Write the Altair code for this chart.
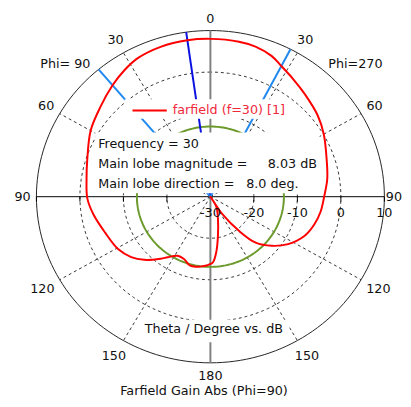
import altair as alt
import numpy as np
import pandas as pd

# ---------------- data ----------------
# theta in degrees, positive = Phi=90 side (left), negative = Phi=270 side (right)
theta_deg = [180, 177, 172, 169, 164, 158, 152, 146, 142.6, 135, 128.6, 120.7, 109.7, 99.2,
             90.8, 81.4, 72.4, 60, 49.6, 40, 33, 26.6, 17.6, 8, 0,
             -10, -16, -22.5, -27.5, -34, -41.2, -51.5, -60, -71.4, -81, -90, -98,
             -105.7, -113.7, -122.6, -130, -136.8, -141.4, -146.7, -148.5, -150.6,
             -162.5, -169.6, -174.2, -177.8, -180]
gain_db = [-13.8, -13.4, -13.0, -12.8, -12.8, -13.8, -13.9, -12.4, -11.2, -8.5, -6.7, -5.3, -4.3, -2.8,
           -1.7, -1.2, -0.3, 1.8, 3.25, 5.0, 6.3, 7.3, 7.85, 8.03, 8.0,
           7.9, 7.6, 6.7, 5.4, 4.1, 2.9, 1.5, 0.1, -1.8, -2.8, -3.85, -4.4,
           -5.2, -6.4, -8.8, -11.6, -14.8, -19.4, -24.8, -40.0, -27.2,
           -24.2, -20.4, -16.6, -14.2, -13.8]

R_MIN, R_MAX = -30, 10
ring_db = [-20, -10, 0]
outer_db = 10
spoke_deg = [30, 60, 120, 150, -30, -60, -120, -150]
label_deg = [0, 30, 60, 90, 120, 150, 180]
db_ticks = [-30, -20, -10, 0, 10]
main_lobe_deg = 8.0
main_lobe_db = 8.03
beam_edges_deg = [40.0, -27.4]
sll_db = -13.1
frequency = 30

# layout constants
LABEL_R = {0: 1.07, 30: 1.09, 60: 1.09, 90: 1.08, 120: 1.115, 150: 1.11, 180: 1.08}
RIGHT_90_R = 1.055  # keep the right-hand "90" inside the page
FONT = "DejaVu Sans"
FS = 13


def r_of(db):
    return max((db - R_MIN) / (R_MAX - R_MIN), 0.0)


def xy(theta, r):
    t = np.radians(theta)
    return -r * np.sin(t), r * np.cos(t)


xs = alt.Scale(domain=[-1, 1], nice=False, zero=False)
ys = alt.Scale(domain=[-1, 1], nice=False, zero=False)
X = lambda f: alt.X(f, type="quantitative", scale=xs, axis=None)
Y = lambda f: alt.Y(f, type="quantitative", scale=ys, axis=None)

# ---- grid rings ----
angles = np.arange(0, 362, 2)
rows = []
for db in ring_db:
    for a in angles:
        x, y = xy(a, r_of(db))
        rows.append({"ring": db, "a": a, "x": x, "y": y})
rings_df = pd.DataFrame(rows)
rings = alt.Chart(rings_df).mark_line(color="#333333", strokeWidth=1, strokeDash=[3, 3]).encode(
    x=X("x"), y=Y("y"), detail="ring:N", order="a:Q")

outer_rows = []
for a in angles:
    x, y = xy(a, r_of(outer_db))
    outer_rows.append({"a": a, "x": x, "y": y})
outer = alt.Chart(pd.DataFrame(outer_rows)).mark_line(color="#222222", strokeWidth=1).encode(
    x=X("x"), y=Y("y"), order="a:Q")

# ---- spokes ----
sp = []
for a in spoke_deg:
    x, y = xy(a, 1.0)
    sp.append({"x": 0.0, "y": 0.0, "x2": x, "y2": y})
spokes = alt.Chart(pd.DataFrame(sp)).mark_rule(color="#333333", strokeWidth=1, strokeDash=[3, 3]).encode(
    x=X("x"), y=Y("y"), x2="x2", y2="y2")

# ---- axes ----
vert = alt.Chart(pd.DataFrame({"x": [0.0], "y": [-1.0], "y2": [1.0]})).mark_rule(
    color="#808080", strokeWidth=2).encode(x=X("x"), y=Y("y"), y2="y2")
horiz = alt.Chart(pd.DataFrame({"x": [-1.0], "x2": [1.0], "y": [0.0]})).mark_rule(
    color="#000000", strokeWidth=1).encode(x=X("x"), x2="x2", y=Y("y"))

tk = []
for db in db_ticks[1:]:
    r = r_of(db)
    for s in (-1, 1):
        tk.append({"x": s * r, "y": 0.0, "y2": -0.03})
ticks = alt.Chart(pd.DataFrame(tk)).mark_rule(color="#000000", strokeWidth=1).encode(
    x=X("x"), y=Y("y"), y2="y2")

# ---- green circle ----
g_rows = []
for a in angles:
    x, y = xy(a, r_of(sll_db))
    g_rows.append({"a": a, "x": x, "y": y})
green = alt.Chart(pd.DataFrame(g_rows)).mark_line(color="#6c9a2c", strokeWidth=2).encode(
    x=X("x"), y=Y("y"), order="a:Q")

# ---- blue lines ----
bx, by = xy(main_lobe_deg, 1.0)
dark = alt.Chart(pd.DataFrame({"x": [0.0], "y": [0.0], "x2": [bx], "y2": [by]})).mark_rule(
    color="#0a10e0", strokeWidth=2).encode(x=X("x"), y=Y("y"), x2="x2", y2="y2")
lb = []
for a in beam_edges_deg:
    x, y = xy(a, 1.0)
    lb.append({"x": 0.0, "y": 0.0, "x2": x, "y2": y})
light = alt.Chart(pd.DataFrame(lb)).mark_rule(color="#1e88f0", strokeWidth=2).encode(
    x=X("x"), y=Y("y"), x2="x2", y2="y2")

# ---- red pattern ----
pat = []
for i, (t, g) in enumerate(zip(theta_deg, gain_db)):
    x, y = xy(t, r_of(g))
    pat.append({"i": i, "theta": t, "gain": g, "x": x, "y": y})
red = alt.Chart(pd.DataFrame(pat)).mark_line(
    color="#ff0000", strokeWidth=2, interpolate="catmull-rom").encode(
    x=X("x"), y=Y("y"), order="i:Q")

# ---- white boxes (pixel positions in the view) ----
one = pd.DataFrame({"k": [0]})


def box(x1, x2, y1, y2):
    return alt.Chart(one).mark_rect(color="white").encode(
        x=alt.value(x1), x2=alt.value(x2), y=alt.value(y1), y2=alt.value(y2))


boxes = [box(90, 260, 70, 90), box(60, 289, 104, 166), box(105, 258, 295, 318)]


def txt(s, x, y, align="left", color="#111111", baseline="alphabetic"):
    return alt.Chart(one).mark_text(
        font=FONT, fontSize=FS, align=align, baseline=baseline, color=color).encode(
        x=alt.value(x), y=alt.value(y), text=alt.value(s))


legend_line = alt.Chart(one).mark_rule(color="#ff0000", strokeWidth=2).encode(
    x=alt.value(98), x2=alt.value(133), y=alt.value(81.5))
legend_text = txt(f"farfield (f={frequency}) [1]", 139, 85.5, color="#f0283c")

info = [
    txt(f"Frequency = {frequency}", 63, 120),
    txt("Main lobe magnitude =", 63, 140),
    txt(f"{main_lobe_db:.2f} dB", 236, 140),
    txt("Main lobe direction =", 63, 161),
    txt(f"{main_lobe_deg:.1f} deg.", 214, 161),
    txt("Theta / Degree vs. dB", 181, 309, align="center"),
    txt("Farfield Gain Abs (Phi=90)", 171, 372, align="center"),
]

# ---- angle labels ----
al = []
for a in label_deg:
    sides = [1] if a in (0, 180) else [1, -1]
    for s in sides:
        r = RIGHT_90_R if (a == 90 and s == -1) else LABEL_R[a]
        x, y = xy(s * a, r)
        al.append({"x": x, "y": y, "lab": str(a)})
for s, lab in [(1, "Phi= 90"), (-1, "Phi=270")]:
    x, y = xy(s * 46.2, 1.155)
    al.append({"x": x, "y": y, "lab": lab})
ang_labels = alt.Chart(pd.DataFrame(al)).mark_text(
    font=FONT, fontSize=FS, align="center", baseline="middle", color="#111111").encode(
    x=X("x"), y=Y("y"), text="lab:N")

dbl = pd.DataFrame({"x": [r_of(d) for d in db_ticks], "lab": [str(d) for d in db_ticks]})
db_labels = alt.Chart(dbl).mark_text(
    font=FONT, fontSize=FS, align="center", baseline="alphabetic", color="#111111").encode(
    x=X("x"), y=alt.value(190), text="lab:N")

chart = alt.layer(
    rings, spokes, outer, vert, horiz, ticks, green, dark, light, red,
    *boxes, legend_line, legend_text, *info, ang_labels, db_labels
).properties(
    width=355, height=339,
    autosize=alt.AutoSizeParams(type="none"),
    padding={"left": 29, "top": 19, "right": 19, "bottom": 38},
    background="white",
).configure_view(strokeWidth=0)

chart.save("out.html", embed_options={"renderer": "svg", "actions": False})
